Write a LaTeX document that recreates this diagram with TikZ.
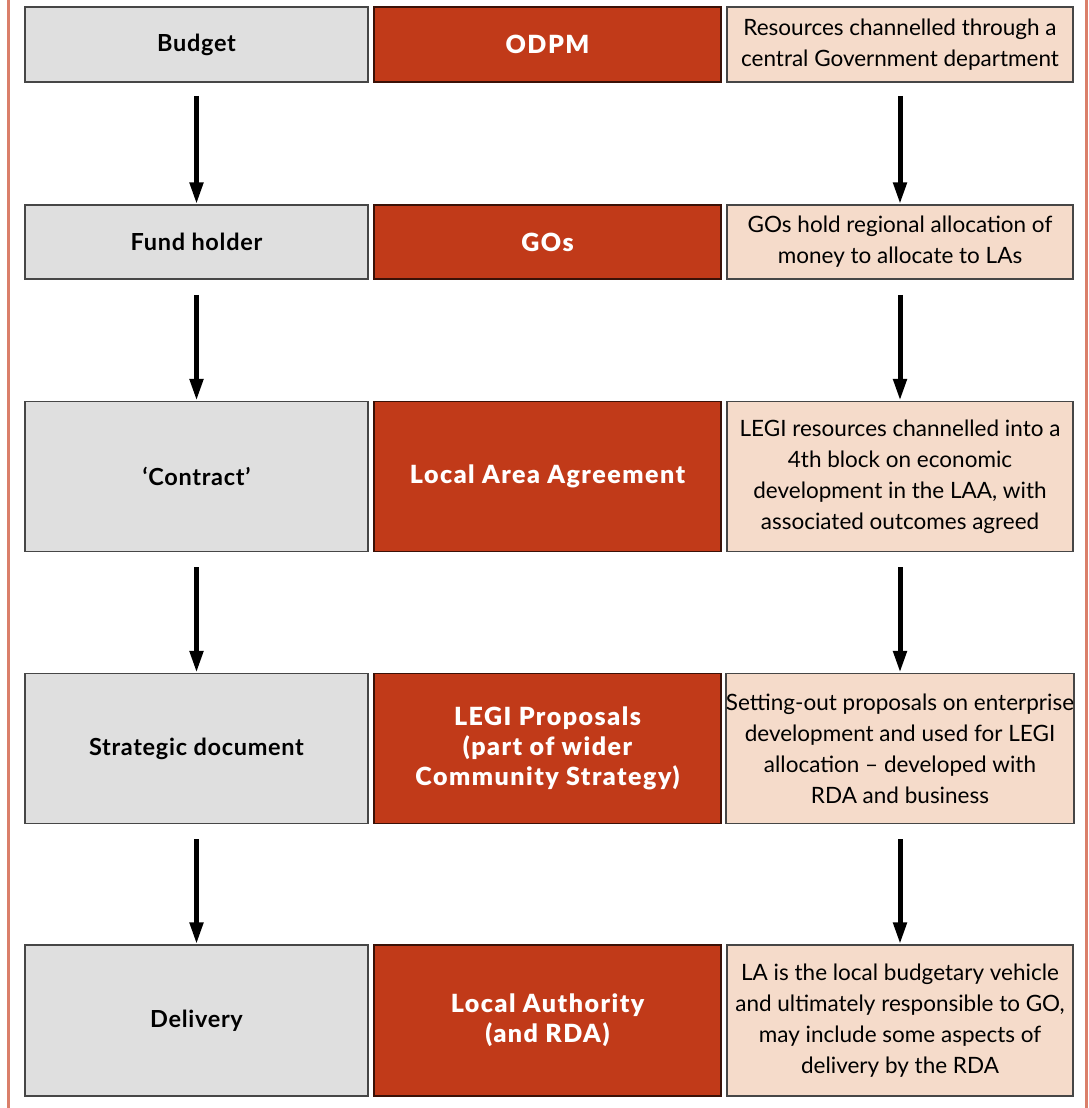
\documentclass[tikz,border=0pt]{standalone}
\usepackage{fontspec}
\setmainfont{Lato}
\newfontfamily\labelfont[LetterSpace=3]{Lato}
\newfontfamily\heavyfont[LetterSpace=6]{Lato Black}
\usepackage{xcolor}
\usepackage{tikz}
\usetikzlibrary{arrows.meta, positioning}
\definecolor{flowgray}{RGB}{223, 223, 223}
\definecolor{flowred}{RGB}{193, 58, 25}
\definecolor{flowpeach}{RGB}{245, 219, 202}
\definecolor{flowframe}{RGB}{218, 127, 106}
\definecolor{flowedge}{RGB}{70, 70, 70}
\tikzset{
  rolebox/.style={
    rectangle, inner sep=0pt,
    minimum width=343pt, minimum height=#1,
    align=center, font=\labelfont\fontsize{23.5}{30}\selectfont\bfseries,
    draw=flowedge, line width=1.5pt, fill=flowgray, text=black
  },
  bodybox/.style={
    rectangle, inner sep=0pt,
    minimum width=347pt, minimum height=#1,
    align=center, font=\heavyfont\fontsize{25}{30}\selectfont,
    draw=flowred!30!black, line width=1.5pt, fill=flowred, text=white
  },
  notebox/.style={
    rectangle, inner sep=0pt,
    minimum width=346pt, minimum height=#1,
    align=center, font=\fontsize{22.5}{31}\selectfont,
    draw=flowedge, line width=1.5pt, fill=flowpeach, text=black
  },
}

\begin{document}
\begin{tikzpicture}[
  x=1pt, y=-1pt,
  down/.style={-{Triangle[length=22pt, width=13pt]}, line width=5pt, color=black},
  frameline/.style={line width=3pt, color=flowframe}
]
\useasboundingbox (0, 0) rectangle (1088, 1108);

% ── Frame ─────────────────────────────────────────────────
\draw[frameline] (8, 0)    -- (8, 1108);
\draw[frameline] (1086, 0) -- (1086, 1108);

% ── Row 1 ─────────────────────────────────────────────────
\node[rolebox=75pt]  (budget)    at (196.5, 44.5) {Budget};
\node[bodybox=75pt]  (odpm)      at (547.5, 44.5) {ODPM};
\node[notebox=75pt]  (resources) at (900, 44.5)   {Resources channelled through a\\central Government department};

% ── Row 2 ─────────────────────────────────────────────────
\node[rolebox=74pt]  (fundholder) at (196.5, 242) {Fund holder};
\node[bodybox=74pt]  (gos)        at (547.5, 242) {GOs};
\node[notebox=74pt]  (gohold)     at (900, 242)   {GOs hold regional allocation of\\money to allocate to LAs};

% ── Row 3 ─────────────────────────────────────────────────
\node[rolebox=150pt] (contract) at (196.5, 476.5) {‘Contract’};
\node[bodybox=150pt] (laa)      at (547.5, 476.5) {Local Area Agreement};
\node[notebox=150pt] (legires)  at (900, 476.5)   {LEGI resources channelled into a\\4th block on economic\\development in the LAA, with\\associated outcomes agreed};

% ── Row 4 ─────────────────────────────────────────────────
\node[rolebox=150pt] (strategy)   at (196.5, 748.5) {Strategic document};
\node[bodybox=150pt] (legiprop)   at (547.5, 748.5) {LEGI Proposals\\(part of wider\\Community Strategy)};
\node[notebox=150pt] (settingout) at (900, 748.5)   {Setting-out proposals on enterprise\\development and used for LEGI\\allocation – developed with\\RDA and business};

% ── Row 5 ─────────────────────────────────────────────────
\node[rolebox=151pt] (delivery)  at (196.5, 1020.5) {Delivery};
\node[bodybox=151pt] (localauth) at (547.5, 1020.5) {Local Authority\\(and RDA)};
\node[notebox=151pt] (labudget)  at (900, 1020.5)   {LA is the local budgetary vehicle\\and ultimately responsible to GO,\\may include some aspects of\\delivery by the RDA};

% ── Arrows: Left Column ───────────────────────────────────
\draw[down] ([yshift=-13pt]budget.south)     -- (fundholder.north);
\draw[down] ([yshift=-15pt]fundholder.south) -- (contract.north);
\draw[down] ([yshift=-15pt]contract.south)   -- (strategy.north);
\draw[down] ([yshift=-15pt]strategy.south)   -- (delivery.north);

% ── Arrows: Right Column ──────────────────────────────────
\draw[down] ([yshift=-13pt]resources.south)  -- (gohold.north);
\draw[down] ([yshift=-15pt]gohold.south)     -- (legires.north);
\draw[down] ([yshift=-15pt]legires.south)    -- (settingout.north);
\draw[down] ([yshift=-15pt]settingout.south) -- (labudget.north);

\end{tikzpicture}
\end{document}
